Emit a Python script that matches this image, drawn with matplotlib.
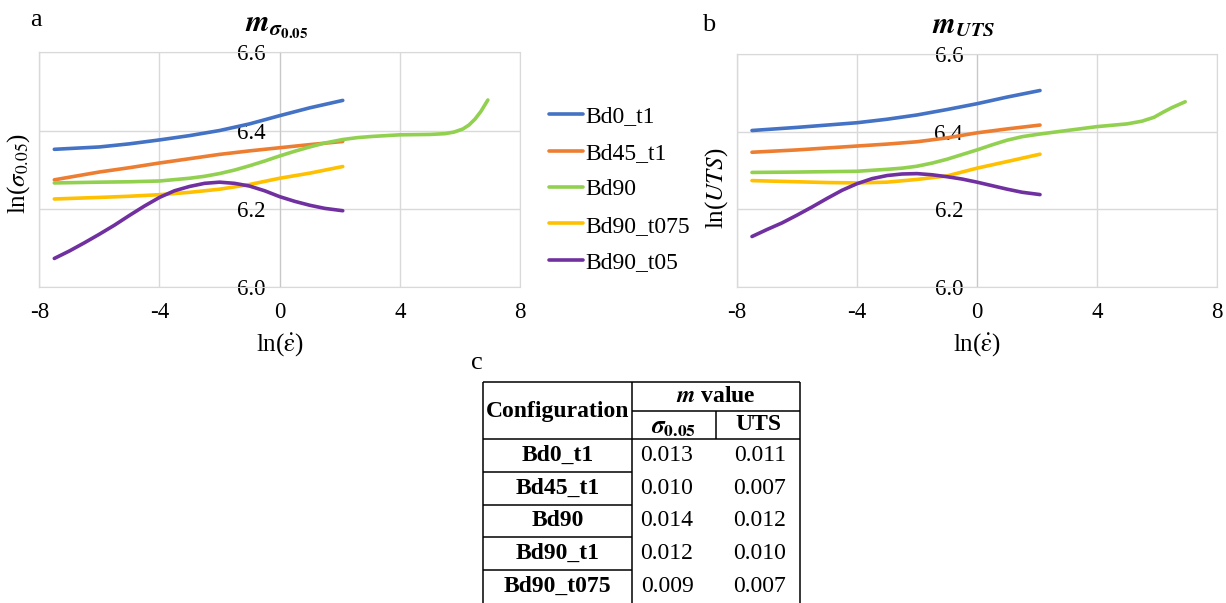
import matplotlib
matplotlib.use("Agg")
import matplotlib.pyplot as plt

plt.rcParams['font.family'] = ['Liberation Serif', 'DejaVu Serif']
plt.rcParams['mathtext.fontset'] = 'stix'
plt.rcParams['axes.unicode_minus'] = False

# Data
series_names = ["Bd0_t1", "Bd45_t1", "Bd90", "Bd90_t075", "Bd90_t05"]
colors = ["#4472C4", "#ED7D31", "#92D050", "#FFC000", "#7030A0"]

x_base = [-7.5, -6, -5, -4, -3, -2, -1, 0, 1, 2.1]
x_half = [-7.5, -7, -6.5, -6, -5.5, -5, -4.5, -4, -3.5, -3, -2.5, -2, -1.5, -1,
          -0.5, 0, 0.5, 1, 1.5, 2.1]
x_sig_bd90 = [-7.5, -6, -5, -4, -3, -2.5, -2, -1.5, -1, -0.5, 0, 0.5, 1, 1.5, 2.1,
              2.6, 3.1, 4, 5, 5.5, 5.8, 6.1, 6.3, 6.5, 6.7, 6.93]
x_uts_bd90 = [-7.5, -6, -5, -4, -3, -2.5, -2, -1.5, -1, -0.5, 0, 0.5, 1, 1.5, 2.1,
              2.6, 3.1, 4, 5, 5.5, 5.9, 6.2, 6.5, 6.94]

# a: ln(sigma_0.05)
sig_bd0_t1 = [6.352, 6.358, 6.366, 6.376, 6.387, 6.400, 6.417, 6.438, 6.458, 6.477]
sig_bd45_t1 = [6.274, 6.294, 6.305, 6.317, 6.328, 6.339, 6.348, 6.356, 6.364, 6.372]
sig_bd90 = [6.266, 6.268, 6.269, 6.271, 6.278, 6.283, 6.290, 6.299, 6.310, 6.322,
            6.335, 6.347, 6.358, 6.368, 6.377, 6.382, 6.385, 6.389, 6.390, 6.392,
            6.396, 6.404, 6.414, 6.429, 6.449, 6.478]
sig_bd90_t075 = [6.225, 6.229, 6.232, 6.236, 6.242, 6.250, 6.262, 6.278, 6.291, 6.308]
sig_bd90_t05 = [6.073, 6.092, 6.113, 6.135, 6.158, 6.183, 6.207, 6.229, 6.246, 6.257,
                6.265, 6.268, 6.265, 6.258, 6.246, 6.231, 6.219, 6.209, 6.201, 6.195]

# b: ln(UTS)
uts_bd0_t1 = [6.403, 6.411, 6.417, 6.423, 6.432, 6.443, 6.457, 6.472, 6.489, 6.506]
uts_bd45_t1 = [6.347, 6.353, 6.358, 6.363, 6.368, 6.374, 6.384, 6.397, 6.407, 6.417]
uts_bd90 = [6.295, 6.296, 6.297, 6.298, 6.303, 6.306, 6.311, 6.319, 6.329, 6.341,
            6.353, 6.366, 6.378, 6.387, 6.394, 6.399, 6.404, 6.413, 6.420, 6.427,
            6.437, 6.450, 6.462, 6.477]
uts_bd90_t075 = [6.274, 6.271, 6.269, 6.268, 6.270, 6.277, 6.286, 6.306, 6.323, 6.342]
uts_bd90_t05 = [6.130, 6.148, 6.165, 6.185, 6.206, 6.228, 6.249, 6.266, 6.279, 6.287,
                6.291, 6.292, 6.289, 6.284, 6.278, 6.270, 6.261, 6.252, 6.244, 6.238]

xticks = [-8, -4, 0, 4, 8]
yticks = [6.0, 6.2, 6.4, 6.6]

# c: table
table_configs = ["Bd0_t1", "Bd45_t1", "Bd90", "Bd90_t1", "Bd90_t075"]
m_sigma = ["0.013", "0.010", "0.014", "0.012", "0.009"]
m_uts = ["0.011", "0.007", "0.012", "0.010", "0.007"]

W, H = 1226, 603
fig = plt.figure(figsize=(W / 100, H / 100), dpi=100)


def px(x0, y_top, w, h):
    return [x0 / W, (H - y_top - h) / H, w / W, h / H]


def style_axes(ax, ylab, ylab_y):
    ax.set_xlim(-8, 8)
    ax.set_ylim(6.0, 6.6)
    ax.set_xticks(xticks)
    ax.set_yticks(yticks)
    ax.set_yticklabels([f"{v:.1f}" for v in yticks])
    ax.grid(True, color="#D9D9D9", lw=1.0, zorder=0)
    ax.set_axisbelow(True)
    for s in ["top", "right", "bottom"]:
        ax.spines[s].set_color("#D9D9D9")
    ax.spines["left"].set_position(("data", 0))
    ax.spines["left"].set_color("#C8C8C8")
    ax.axvline(-8, color="#D9D9D9", lw=1.0, clip_on=False, zorder=0)
    ax.tick_params(axis="both", length=0, labelsize=16.5)
    ax.tick_params(axis="x", pad=11)
    ax.tick_params(axis="y", pad=10)
    ax.set_xlabel(r"ln($\dot{\mathrm{\varepsilon}}$)", fontsize=18)
    ax.xaxis.set_label_coords(0.5, -0.19)
    ax.set_ylabel(ylab, fontsize=18)
    ax.yaxis.set_label_coords(-0.015, ylab_y)


lw = 2.6
axa = fig.add_axes(px(39.3, 52.3, 480.7, 234.7))
for xs, ys, c, n in zip([x_base, x_base, x_sig_bd90, x_base, x_half],
                        [sig_bd0_t1, sig_bd45_t1, sig_bd90, sig_bd90_t075, sig_bd90_t05],
                        colors, series_names):
    axa.plot(xs, ys, color=c, lw=lw, label=n, solid_capstyle="round",
             solid_joinstyle="round", zorder=3)
style_axes(axa, r"ln($\sigma_{0.05}$)", 0.483)

axb = fig.add_axes(px(737, 54, 480, 233))
for xs, ys, c, n in zip([x_base, x_base, x_uts_bd90, x_base, x_half],
                        [uts_bd0_t1, uts_bd45_t1, uts_bd90, uts_bd90_t075, uts_bd90_t05],
                        colors, series_names):
    axb.plot(xs, ys, color=c, lw=lw, label=n, solid_capstyle="round",
             solid_joinstyle="round", zorder=3)
style_axes(axb, r"ln($UTS$)", 0.425)

handles, labels = axa.get_legend_handles_labels()
fig.legend(handles, labels, loc="upper left", bbox_to_anchor=(549 / W, 1 - 106 / H),
           frameon=False, fontsize=17, handlelength=1.45, handletextpad=0.1,
           labelspacing=0.63, borderpad=0, borderaxespad=0)

# overlay for panel letters, titles and the table
ov = fig.add_axes([0, 0, 1, 1], zorder=5)
ov.set_xlim(0, W)
ov.set_ylim(H, 0)
ov.axis("off")

ov.text(36, 20, "a", fontsize=19, ha="center", va="center")
ov.text(709, 25, "b", fontsize=19, ha="center", va="center")
ov.text(477, 363, "c", fontsize=19, ha="center", va="center")
ov.text(277, 26, r"$\mathbfit{m}_{\mathbfit{\sigma}_{\mathbf{0.05}}}$", fontsize=22, ha="center", va="center")
ov.text(964, 26, r"$\mathbfit{m}_{\mathbfit{UTS}}$", fontsize=21, ha="center", va="center")

# table grid
tl, tr, tt = 483, 800, 382
c1, c2 = 632, 716
hmid, hbot = 411, 439
row_h = 32.75
bottom = H + 5
k = dict(color="black", lw=1.1, solid_capstyle="butt", clip_on=False)
ov.plot([tl, tr], [tt, tt], **k)
ov.plot([tl, tl], [tt, bottom], **k)
ov.plot([tr, tr], [tt, bottom], **k)
ov.plot([c1, c1], [tt, bottom], **k)
ov.plot([c1, tr], [hmid, hmid], **k)
ov.plot([c2, c2], [hmid, hbot], **k)
ov.plot([tl, tr], [hbot, hbot], **k)
for i in range(1, len(table_configs)):
    y = hbot + i * row_h
    ov.plot([tl, c1], [y, y], **k)

fs = 17
ov.text((tl + c1) / 2, 412, "Configuration", fontsize=fs, fontweight="bold", ha="center", va="center")
ov.text((c1 + tr) / 2, 397, r"$\mathbfit{m}$ value", fontsize=fs, fontweight="bold", ha="center", va="center")
ov.text((c1 + c2) / 2, 428, r"$\mathbfit{\sigma}_{\mathbf{0.05}}$", fontsize=fs + 1, ha="center", va="center")
ov.text((c2 + tr) / 2, 425, "UTS", fontsize=fs, fontweight="bold", ha="center", va="center")
for i, (cfg, ms, mu) in enumerate(zip(table_configs, m_sigma, m_uts)):
    yc = hbot + (i + 0.5) * row_h
    ov.text((tl + c1) / 2, yc, cfg, fontsize=fs, fontweight="bold", ha="center", va="center")
    ov.text(667, yc, ms, fontsize=fs, ha="center", va="center")
    ov.text(760, yc, mu, fontsize=fs, ha="center", va="center")

fig.savefig("out.png", dpi=100)
